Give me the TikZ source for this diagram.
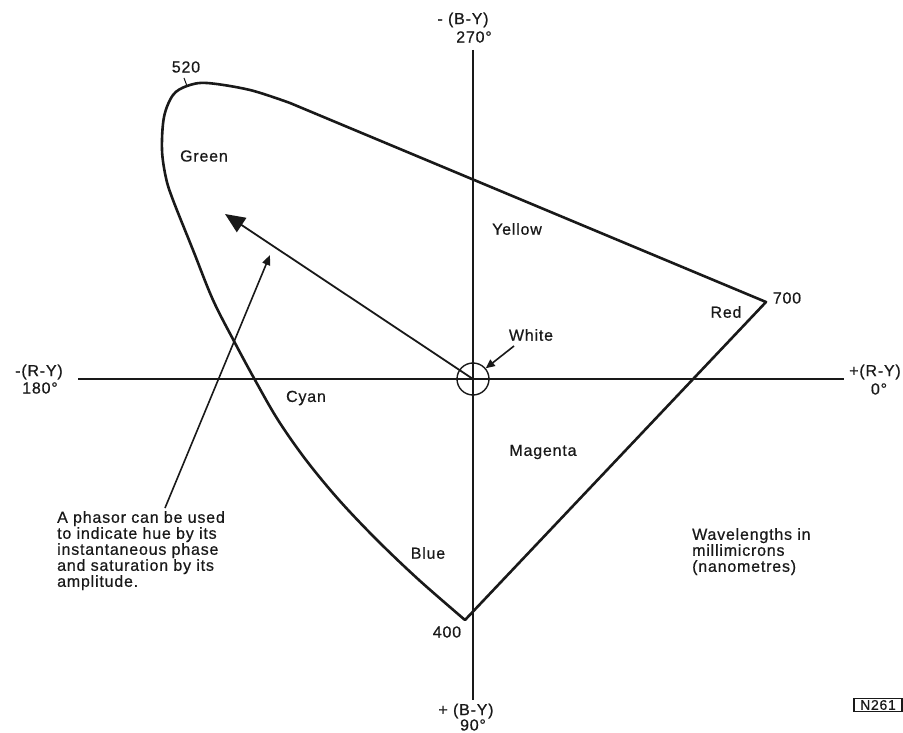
\documentclass[tikz,border=0pt]{standalone}
\usepackage{fontspec}
\setmainfont{Liberation Sans}[LetterSpace=5, FakeBold=0.6]
\usetikzlibrary{arrows.meta}
\begin{document}
\begin{tikzpicture}[x=1pt,y=-1pt,
  lbl/.style={font=\fontsize{16}{16}\selectfont, inner sep=0pt, text=black!90},
  para/.style={lbl, align=left},
  axis/.style={line width=1.5pt, black!90},
  locus/.style={line width=2.6pt, black!90, line join=round},
  ptr/.style={line width=1.6pt, black!90}]
\useasboundingbox (0,0) rectangle (903,733);
% axes
\coordinate (O) at (473,379);
\coordinate (top) at (473,50);
\coordinate (bot) at (473,700);
\coordinate (lft) at (78,379);
\coordinate (rgt) at (844,379);
\draw[axis] (top) -- (bot);
\draw[axis] (lft) -- (rgt);
% axis labels
\node[lbl] (bmy) at (463,20) {- (B-Y)};
\node[lbl] (d270) at (474,37) {270°};
\node[lbl] (bpy) at (466,711) {+ (B-Y)};
\node[lbl] (d90) at (473,725) {90°};
\node[lbl] (rmy) at (39,372) {-(R-Y)};
\node[lbl] (d180) at (40,388) {180°};
\node[lbl] (rpy) at (875,372) {+(R-Y)};
\node[lbl] (d0) at (879,389) {0°};
% spectral locus
\coordinate (w700) at (766,302);
\coordinate (w400) at (465,620);
\coordinate (w520) at (187,86);
\draw[locus] (w700) -- plot[smooth, tension=0.55] coordinates {
 (290,103) (250,90) (207,83) (187,86) (173,95) (164,117) (162,150)
 (166,178) (173,200) (193,250) (213,300) (235,343) (255,380) (278,420)
 (306,460) (339,500) (377,540) (419,580) (465,620)} -- cycle;
\coordinate (tk) at (184,78);
\draw[line width=1pt, black!90] (tk) -- (w520);
\node[lbl] (n520) at (186,67) {520};
\node[lbl] (n700) at (787,298) {700};
\node[lbl] (n400) at (447,632) {400};
% white circle
\node[circle, draw, line width=1.4pt, black!90, minimum size=32pt, inner sep=0pt] (white) at (O) {};
\node[lbl] (whitel) at (531,335) {White};
\coordinate (wt) at (514,346);
\draw[ptr, -{Triangle[length=9pt,width=8pt]}] (wt) -- (white.40);
% phasor
\coordinate (ph) at (225,214);
\draw[ptr, line width=1.8pt, -{Triangle[length=20pt,width=17pt]}] (O) -- (ph);
\coordinate (ps) at (165,508);
\coordinate (pe) at (270,255);
\draw[ptr, -{Triangle[length=10pt,width=8pt]}] (ps) -- (pe);
% colour names
\node[lbl] (green) at (204,156) {Green};
\node[lbl] (yellow) at (517,229) {Yellow};
\node[lbl] (red) at (726,312) {Red};
\node[lbl] (cyan) at (306,398) {Cyan};
\node[lbl] (magenta) at (543,452) {Magenta};
\node[lbl] (blue) at (428,553) {Blue};
% notes
\node[para, anchor=north west] (note) at (57,511) {A phasor can be used\\to indicate hue by its\\instantaneous phase\\and saturation by its\\amplitude.};
\node[para, anchor=north west] (wave) at (692,528) {Wavelengths in\\millimicrons\\(nanometres)};
\node[draw, line width=1.2pt, black!90, font=\fontsize{14}{14}\selectfont, inner sep=1pt, minimum width=48pt, minimum height=13pt] (ref) at (878,705) {N261};
\end{tikzpicture}
\end{document}
